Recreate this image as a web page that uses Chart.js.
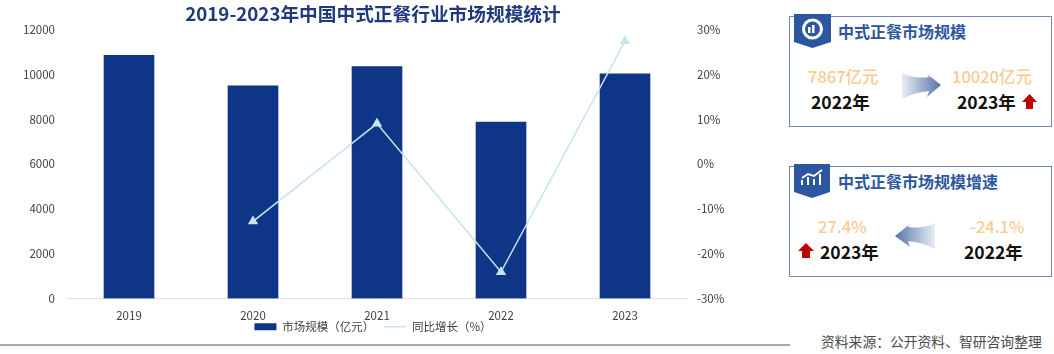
<!DOCTYPE html>
<html><head><meta charset="utf-8">
<script src="https://cdn.jsdelivr.net/npm/chart.js@4"></script>
<style>
html,body{margin:0;padding:0;background:#fff;width:1054px;height:354px;overflow:hidden;font-family:"Noto Sans CJK SC","Noto Sans",sans-serif}
#wrap{position:absolute;left:0;top:0;width:746px;height:354px}
.abs{position:absolute;white-space:nowrap;line-height:1}
.box{position:absolute;left:789px;width:261px;height:109px;border:1.5px solid #7289b8;box-sizing:content-box}
.head{font-size:16px;font-weight:700;color:#2c56a0}
.val{font-size:16.500px;font-weight:500;color:#f8cb92}
.yr{font-size:17.500px;font-weight:700;color:#111}
svg{position:absolute;overflow:visible}
</style></head><body>
<div class="abs" style="left:0;top:344px;width:790px;height:1.5px;background:#a9a9a9"></div>
<div id="wrap"><canvas id="c"></canvas></div>

<div class="box" style="top:16px"></div>
<div class="box" style="top:166px"></div>

<svg style="left:794px;top:14px" width="38" height="36"><path d="M0 0H37V28L18.500 34L0 28Z" fill="#2c56a0"/><circle cx="18.500" cy="15" r="9" fill="none" stroke="#fff" stroke-width="3"/><rect x="14" y="13" width="2.500" height="6" fill="#fff"/><rect x="18" y="11" width="2.500" height="8" fill="#fff"/></svg>
<svg style="left:794px;top:164px" width="38" height="36"><path d="M0 0H36V28L18 34L0 28Z" fill="#2c56a0"/><path d="M8 21V16M14 21V13M20 21V15M26 21V10M8 14L14 10L20 12L28 6" fill="none" stroke="#fff" stroke-width="2"/></svg>

<div class="abs head" style="left:838px;top:23px">中式正餐市场规模</div>
<div class="abs head" style="left:838px;top:173px">中式正餐市场规模增速</div>
<div class="abs val" style="left:808px;top:68px">7867亿元</div>
<div class="abs yr" style="left:811px;top:93px">2022年</div>
<div class="abs val" style="left:952px;top:68px">10020亿元</div>
<div class="abs yr" style="left:957px;top:93px">2023年</div>
<div class="abs val" style="left:818px;top:218px">27.4%</div>
<div class="abs yr" style="left:820px;top:243px">2023年</div>
<div class="abs val" style="left:970px;top:218px">-24.1%</div>
<div class="abs yr" style="left:964px;top:243px">2022年</div>
<div class="abs" style="left:821px;top:335px;font-size:13.800px;color:#4a4a4a">资料来源：公开资料、智研咨询整理</div>

<svg style="left:0;top:0" width="1054" height="354">
<defs>
<linearGradient id="gr"><stop offset="0" stop-color="#e8edf5"/><stop offset="1" stop-color="#5675a8"/></linearGradient>
<linearGradient id="gl"><stop offset="0" stop-color="#5675a8"/><stop offset="1" stop-color="#e8edf5"/></linearGradient>
</defs>
<path d="M902 73C913 78 921 78 929 77L927 74L941 85L927 97L929 91C920 92 911 94 902 99Z" fill="url(#gr)"/>
<path d="M935 223C924 228 916 228 908 227L910 224L895 236L910 247L908 241C917 242 926 244 935 249Z" fill="url(#gl)"/>
<path id="up1" d="M1029.500 94L1037 102H1033V109H1026V102H1022Z" fill="#c00000"/>
<path id="up2" d="M806 243L814 251H810V258H802V251H798Z" fill="#c00000"/>
</svg>

<script>
const categories = ["2019","2020","2021","2022","2023"];
const marketSize = [10850,9490,10340,7867,10020];
const growth = [null,-12.8,9,-24.1,27.4];
const barName = "市场规模（亿元）";
const lineName = "同比增长（%）";
const chartTitle = "2019-2023年中国中式正餐行业市场规模统计";
const font = '"Noto Sans CJK SC","Noto Sans",sans-serif';
const legendPad = 10;
const legendLift = {id:'legendLift',afterLayout(ch){ch.legend.top = 327 - legendPad - 6;}};
Chart.defaults.animation = false;
new Chart(document.getElementById('c'),{
  plugins:[legendLift],
  data:{labels:categories,datasets:[
    {type:'line',label:lineName,data:growth,yAxisID:'y2',borderColor:'#c5e4ee',backgroundColor:'#c5e4ee',borderWidth:1.5,tension:0,pointStyle:'triangle',pointRadius:4.5,pointBackgroundColor:'#c5e4ee',pointBorderColor:'#c5e4ee',spanGaps:false,order:1},
    {type:'bar',label:barName,data:marketSize,yAxisID:'y',backgroundColor:'#0f3586',barThickness:50,order:2}
  ]},
  options:{responsive:true,maintainAspectRatio:false,
    layout:{padding:{top:0,bottom:0}},
    scales:{
      x:{grid:{display:false},border:{color:'#dcdfe6'},ticks:{color:'#404040',font:{family:font,size:11.500},padding:2,maxRotation:0},
        afterFit(s){s.height=24}},
      y:{position:'left',min:0,max:12000,ticks:{stepSize:2000,color:'#404040',font:{family:font,size:11.500},padding:4,callback:v=>String(v)},grid:{display:false},border:{display:false},
        afterFit(s){s.width=67}},
      y2:{position:'right',min:-30,max:30,ticks:{stepSize:10,color:'#404040',font:{family:font,size:11.500},padding:2,callback:v=>v+'%'},grid:{display:false},border:{display:false},
        afterFit(s){s.width=59}}
    },
    plugins:{
      title:{display:true,text:chartTitle,color:'#1f3a7c',font:{family:font,size:18.700,weight:'700'},padding:{top:3,bottom:4}},
      tooltip:{enabled:false},
      legend:{position:'bottom',labels:{color:'#404040',font:{family:font,size:11.500},usePointStyle:true,pointStyleWidth:22,boxHeight:7,padding:legendPad,
        generateLabels(ch){
          const items=Chart.defaults.plugins.legend.labels.generateLabels(ch);
          items.forEach(i=>{ if(i.text===lineName){i.pointStyle='line';i.lineWidth=1.5;} else {i.pointStyle='rect';} });
          return items.sort((a,b)=>a.text===barName?-1:1);
        }}}
    }
  }
});
</script>
</body></html>
